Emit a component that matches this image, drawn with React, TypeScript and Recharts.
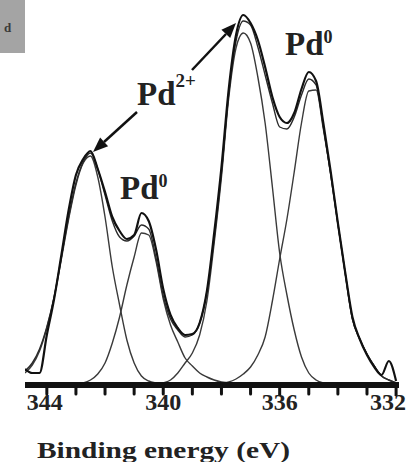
import React from "react";
import { LineChart, Line, XAxis, YAxis } from "recharts";

// binding energy grid (eV), high -> low as on the plot
const energy = [
  344.75, 344.5, 344.25, 344.0, 343.75, 343.5, 343.25, 343.0, 342.75, 342.5,
  342.25, 342.0, 341.75, 341.5, 341.25, 341.0, 340.75, 340.5, 340.25, 340.0,
  339.75, 339.5, 339.25, 339.0, 338.75, 338.5, 338.25, 338.0, 337.75, 337.5,
  337.25, 337.0, 336.75, 336.5, 336.25, 336.0, 335.75, 335.5, 335.25, 335.0,
  334.75, 334.5, 334.25, 334.0, 333.75, 333.5, 333.25, 333.0, 332.75, 332.5,
  332.25, 332.0,
];

// measured spectrum
const measured = [
  16, 12, 12, 50, 86, 130, 175, 210, 226, 234, 216, 193, 168, 154, 146, 150,
  172, 164, 136, 96, 70, 57, 50, 51, 62, 94, 152, 218, 296, 350, 370, 362,
  345, 318, 288, 268, 262, 272, 296, 313, 304, 262, 214, 162, 113, 68, 46, 30,
  18, 10, 24, 4,
];

// fitted envelope
const envelope = [
  14, 22, 36, 58, 88, 128, 168, 202, 223, 232, 216, 190, 164, 148, 144, 149,
  160, 156, 127, 89, 66, 55, 48, 50, 62, 93, 146, 212, 291, 344, 364, 360,
  338, 310, 282, 258, 256, 268, 290, 306, 300, 258, 212, 161, 112, 66, 46, 31,
  19, 9, 5, 2,
];

// Pd2+ 3d3/2
const pd2High = [
  12, 20, 34, 57, 87, 126, 166, 200, 222, 229, 208, 168, 118, 80, 45, 22, 9,
  4, 2, 1, 0, 0, 0, 0, 0, 0, 0, 0, 0, 0, 0, 0, 0, 0, 0, 0, 0, 0, 0, 0, 0, 0,
  0, 0, 0, 0, 0, 0, 0, 0, 0, 0,
];

// Pd0 3d3/2
const pd0High = [
  0, 0, 0, 0, 0, 0, 0, 1, 2, 5, 11, 22, 42, 68, 100, 128, 152, 150, 124, 86,
  60, 43, 27, 19, 12, 8, 5, 3, 2, 1, 0, 0, 0, 0, 0, 0, 0, 0, 0, 0, 0, 0, 0, 0,
  0, 0, 0, 0, 0, 0, 0, 0,
];

// Pd2+ 3d5/2
const pd2Low = [
  0, 0, 0, 0, 0, 0, 0, 0, 0, 0, 0, 0, 0, 0, 0, 0, 0, 0, 0, 2, 5, 12, 22, 32,
  50, 84, 142, 208, 287, 337, 352, 342, 308, 262, 198, 132, 90, 55, 28, 12, 5,
  2, 1, 0, 0, 0, 0, 0, 0, 0, 0, 0,
];

// Pd0 3d5/2
const pd0Low = [
  0, 0, 0, 0, 0, 0, 0, 0, 0, 0, 0, 0, 0, 0, 0, 0, 0, 0, 0, 0, 0, 0, 0, 0, 0,
  0, 1, 2, 3, 6, 11, 18, 30, 48, 84, 126, 166, 213, 262, 294, 295, 256, 211,
  161, 112, 66, 46, 31, 19, 9, 5, 2,
];

const tickValues = [344, 343, 342, 341, 340, 339, 338, 337, 336, 335, 334, 333, 332];
const labelledTicks = [344, 340, 336, 332];

const data = energy.map((e, i) => ({
  e,
  exp: measured[i],
  fit: envelope[i],
  c1: pd2High[i],
  c2: pd0High[i],
  c3: pd2Low[i],
  c4: pd0Low[i],
}));

const serif = "Liberation Serif, Tinos, Times New Roman, serif";

function AxisTick(props: any) {
  const { x, y, payload } = props;
  const v = payload.value;
  const major = v === 336 || v === 332;
  const showLabel = labelledTicks.includes(v);
  const dx = v === 332 ? -8 : v === 344 ? -2 : 0;
  return (
    <g>
      <line
        x1={x}
        y1={y}
        x2={x}
        y2={y + (major ? 11 : 9)}
        stroke="#111"
        strokeWidth={3}
        strokeLinecap={major ? "butt" : "round"}
      />
      {showLabel && (
        <text
          x={x + dx}
          y={y + 25}
          textAnchor="middle"
          style={{ fontFamily: serif }}
          fontWeight="bold"
          fontSize={24}
          fill="#222"
        >
          {v}
        </text>
      )}
    </g>
  );
}

export default function App() {
  return (
    <div style={{ position: "absolute", left: 0, top: 0, width: 418, height: 462, background: "#fff" }}>
      <LineChart
        width={418}
        height={462}
        data={data}
        margin={{ top: 4, right: 19, bottom: 0, left: 25 }}
      >
        <XAxis
          dataKey="e"
          type="number"
          domain={[331.9, 344.75]}
          reversed
          allowDataOverflow
          ticks={tickValues}
          interval={0}
          height={77}
          tickSize={0}
          tickMargin={0}
          tickLine={false}
          axisLine={{ stroke: "#111", strokeWidth: 6 }}
          tick={<AxisTick />}
        />
        <YAxis hide domain={[0, 381]} />
        {/* fitted components */}
        <Line type="monotone" dataKey="c1" stroke="#3a3a3a" strokeWidth={1.4} dot={false} isAnimationActive={false} />
        <Line type="monotone" dataKey="c2" stroke="#3a3a3a" strokeWidth={1.4} dot={false} isAnimationActive={false} />
        <Line type="monotone" dataKey="c3" stroke="#3a3a3a" strokeWidth={1.4} dot={false} isAnimationActive={false} />
        <Line type="monotone" dataKey="c4" stroke="#3a3a3a" strokeWidth={1.4} dot={false} isAnimationActive={false} />
        {/* envelope + data */}
        <Line type="monotone" dataKey="fit" stroke="#2a2a2a" strokeWidth={1.4} dot={false} isAnimationActive={false} />
        <Line type="monotone" dataKey="exp" stroke="#111" strokeWidth={2.2} dot={false} isAnimationActive={false} />
      </LineChart>

      <svg
        width={418}
        height={462}
        style={{ position: "absolute", left: 0, top: 0, pointerEvents: "none", fontFamily: serif }}
      >
        {/* cut-off panel tag */}
        <rect x={0} y={0} width={25} height={53} fill="#a4a4a4" />
        <text x={4} y={32} fontWeight="bold" fontSize={13} fill="#3a3a3a">
          d
        </text>

        {/* arrows */}
        <line x1={137} y1={112} x2={104} y2={142} stroke="#111" strokeWidth={2.5} />
        <polygon points="93,152 108.1,146.3 100.1,137.5" fill="#111" />
        <line x1={192} y1={70} x2={226} y2={34} stroke="#111" strokeWidth={2.5} />
        <polygon points="236,23 230.2,38 221.4,29.8" fill="#111" />

        {/* labels */}
        <text x={137} y={105} fontWeight="bold" fontSize={33} fill="#222">
          Pd
          <tspan fontSize={19} dy={-18}>2+</tspan>
        </text>
        <text x={120} y={199} fontWeight="bold" fontSize={33} fill="#222">
          Pd
          <tspan fontSize={18} dy={-12}>0</tspan>
        </text>
        <text x={285} y={55} fontWeight="bold" fontSize={33} fill="#222">
          Pd
          <tspan fontSize={18} dy={-12}>0</tspan>
        </text>

        <text
          x={37}
          y={458}
          fontWeight="bold"
          fontSize={23}
          fill="#222"
          textLength={253}
          lengthAdjust="spacingAndGlyphs"
        >
          Binding energy (eV)
        </text>
      </svg>
    </div>
  );
}
